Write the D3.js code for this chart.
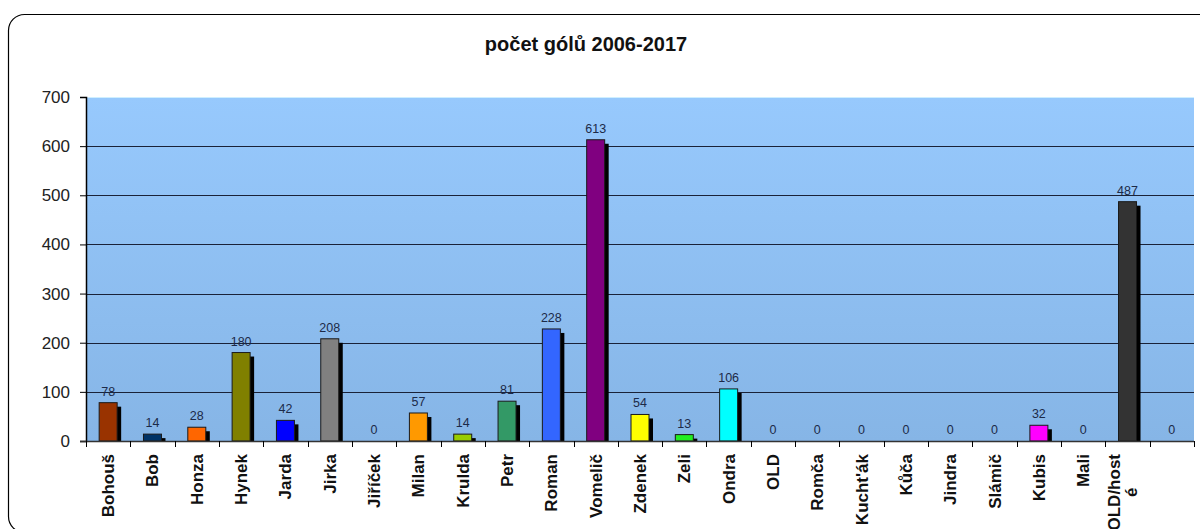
<!DOCTYPE html>
<html>
<head>
<meta charset="utf-8">
<script src="https://cdn.jsdelivr.net/npm/d3@7"></script>
<style>
  body { margin: 0; background: #fff; }
  text { font-family: Arial, "Liberation Sans", sans-serif; }
</style>
</head>
<body>
<div id="chart"></div>
<script>
// data
var players = ["Bohouš", "Bob", "Honza", "Hynek", "Jarda", "Jirka", "Jiříček", "Milan", "Krulda", "Petr",
  "Roman", "Vomelič", "Zdenek", "Zeli", "Ondra", "OLD", "Romča", "Kucht'ák", "Kůča", "Jindra",
  "Slámič", "Kubis", "Mali", "OLD/host|é", ""];
var goals = [78, 14, 28, 180, 42, 208, 0, 57, 14, 81, 228, 613, 54, 13, 106, 0, 0, 0, 0, 0, 0, 32, 0, 487, 0];
var barColors = ["#993300", "#003366", "#ff6600", "#808000", "#0000ff", "#808080", "#999999", "#ff9900", "#99cc00", "#339966",
  "#3366ff", "#800080", "#ffff00", "#22ee22", "#00ffff", "#999999", "#999999", "#999999", "#999999", "#999999",
  "#999999", "#ff00ff", "#999999", "#333333", "#999999"];
var yTicks = [0, 100, 200, 300, 400, 500, 600, 700];

var svgWidth = 1200, svgHeight = 529;
var margin = { top: 97, right: 6, bottom: 88, left: 86 };
var width = svgWidth - margin.left - margin.right;
var height = svgHeight - margin.top - margin.bottom;

var svg = d3.select("#chart").append("svg")
  .attr("width", svgWidth)
  .attr("height", svgHeight);

// frame
svg.append("rect")
  .attr("x", 8.5).attr("y", 14.5)
  .attr("width", 1210).attr("height", 518)
  .attr("rx", 16).attr("ry", 16)
  .attr("fill", "#fff")
  .attr("stroke", "#000")
  .attr("stroke-width", 1.2);

svg.append("text")
  .attr("x", 586).attr("y", 51)
  .attr("text-anchor", "middle")
  .attr("font-size", "20px")
  .attr("font-weight", "bold")
  .attr("fill", "#111")
  .text("počet gólů 2006-2017");

var defs = svg.append("defs");
var grad = defs.append("linearGradient")
  .attr("id", "bg").attr("x1", 0).attr("y1", 0).attr("x2", 0).attr("y2", 1);
grad.append("stop").attr("offset", "0%").attr("stop-color", "#97c9fd");
grad.append("stop").attr("offset", "100%").attr("stop-color", "#86b5e6");

var g = svg.append("g")
  .attr("transform", `translate(${margin.left}, ${margin.top})`);

var x = d3.scaleBand().domain(d3.range(players.length)).range([0, width]).padding(0);
var y = d3.scaleLinear().domain([0, 700]).range([height, 0]);

g.append("rect")
  .attr("width", width).attr("height", height)
  .attr("fill", "url(#bg)");
g.append("line")
  .attr("x1", 0).attr("x2", width).attr("y1", 0.5).attr("y2", 0.5)
  .attr("stroke", "#cfefff");

// gridlines
g.selectAll(".grid")
  .data(yTicks.filter(d => d > 0 && d < 700))
  .enter().append("line")
  .attr("x1", 0).attr("x2", width)
  .attr("y1", d => Math.round(y(d)) + 0.5)
  .attr("y2", d => Math.round(y(d)) + 0.5)
  .attr("stroke", "#1a2238")
  .attr("stroke-width", 1.2);

// bars with shadow
var barW = 18, off = 4;
var bars = g.selectAll(".bar")
  .data(goals.map((v, i) => ({ v: v, i: i })).filter(d => d.v > 0))
  .enter().append("g");

bars.append("rect")
  .attr("x", d => x(d.i) + x.bandwidth() / 2 - barW / 2 + off)
  .attr("y", d => y(d.v) + off)
  .attr("width", barW)
  .attr("height", d => Math.max(0, height - y(d.v) - off))
  .attr("fill", "#000");

bars.append("rect")
  .attr("x", d => x(d.i) + x.bandwidth() / 2 - barW / 2)
  .attr("y", d => y(d.v))
  .attr("width", barW)
  .attr("height", d => height - y(d.v))
  .attr("fill", d => barColors[d.i])
  .attr("stroke", "#1a1a1a")
  .attr("stroke-width", 1);

// value labels
g.selectAll(".val")
  .data(goals)
  .enter().append("text")
  .attr("x", (d, i) => x(i) + x.bandwidth() / 2)
  .attr("y", d => y(d) - 7)
  .attr("text-anchor", "middle")
  .attr("font-size", "12.5px")
  .attr("fill", "#1c2a48")
  .text(d => d);

// axes
var leftAxis = d3.axisLeft(y).tickValues(yTicks).tickSize(6).tickPadding(10);
var yAxis = g.append("g").call(leftAxis);
yAxis.select(".domain").attr("stroke", "#000").attr("stroke-width", 1.5);
yAxis.selectAll("text").attr("font-size", "17px").attr("fill", "#222").attr("font-family", "Arial, 'Liberation Sans', sans-serif");

g.append("line")
  .attr("x1", -6).attr("x2", width)
  .attr("y1", height + 0.5).attr("y2", height + 0.5)
  .attr("stroke", "#333").attr("stroke-width", 1.3);

g.selectAll(".xtick")
  .data(d3.range(players.length + 1))
  .enter().append("line")
  .attr("x1", d => Math.round(d * x.step()) + 0.5)
  .attr("x2", d => Math.round(d * x.step()) + 0.5)
  .attr("y1", height).attr("y2", height + 6)
  .attr("stroke", "#000");

// category labels, rotated
var labels = g.selectAll(".xlab")
  .data(players)
  .enter().append("text")
  .attr("transform", (d, i) => `translate(${x(i) + x.bandwidth() / 2 + 6}, ${height + 13}) rotate(-90)`)
  .attr("text-anchor", "end")
  .attr("font-size", "17px")
  .attr("font-weight", "bold")
  .attr("fill", "#111");

labels.each(function(d) {
  var parts = d.split("|");
  var t = d3.select(this);
  var first = t.append("tspan").attr("x", 0).text(parts[0]);
  if (parts.length > 1) {
    var len = first.node().getComputedTextLength();
    t.attr("transform", t.attr("transform").replace(/translate\(([^,]+),/, (m, a) => `translate(${+a - 14},`));
    t.append("tspan")
      .attr("x", -len / 2)
      .attr("dy", "1.0em")
      .attr("text-anchor", "middle")
      .text(parts[1]);
  }
});
</script>
</body>
</html>
